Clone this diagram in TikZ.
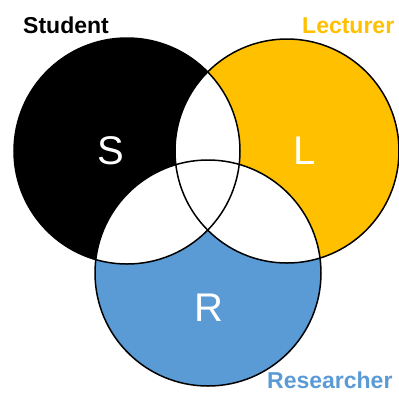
\documentclass[tikz,border=0pt]{standalone}
\usepackage{fontspec}
\setmainfont{Liberation Sans}
\definecolor{lorange}{HTML}{FFC000}
\definecolor{rblue}{HTML}{5B9BD5}
\begin{document}
\begin{tikzpicture}[x=1pt,y=-1pt,
  outline/.style={draw=black,line width=1.5pt},
  title/.style={font=\fontsize{23}{26}\selectfont\bfseries,inner sep=0pt,anchor=base west},
  letter/.style={font=\fontsize{40}{44}\selectfont,text=white,inner sep=0pt}]
\useasboundingbox (0,0) rectangle (399,392);
\coordinate (cs) at (127,151);
\coordinate (cl) at (287,151);
\coordinate (cr) at (208,273);
\def\rs{113}\def\rl{112}\def\rr{113}
% fills
\fill[black] (cs) circle (\rs);
\fill[lorange] (cl) circle (\rl);
\fill[rblue] (cr) circle (\rr);
% pairwise intersections white
\begin{scope}\clip (cs) circle (\rs); \fill[white] (cl) circle (\rl); \end{scope}
\begin{scope}\clip (cs) circle (\rs); \fill[white] (cr) circle (\rr); \end{scope}
\begin{scope}\clip (cl) circle (\rl); \fill[white] (cr) circle (\rr); \end{scope}
% outlines
\draw[outline] (cs) circle (\rs);
\draw[outline] (cl) circle (\rl);
\draw[outline] (cr) circle (\rr);
% letters
\node[letter] (s) at (111,151) {S};
\node[letter] (l) at (305,151) {L};
\node[letter] (r) at (209,308) {R};
% titles
\node[title,text=black] (ts) at (23,33) {Student};
\node[title,text=lorange] (tl) at (302,33) {Lecturer};
\node[title,text=rblue,text depth=0pt] (tr) at (267,388) {Researcher};
\end{tikzpicture}
\end{document}
